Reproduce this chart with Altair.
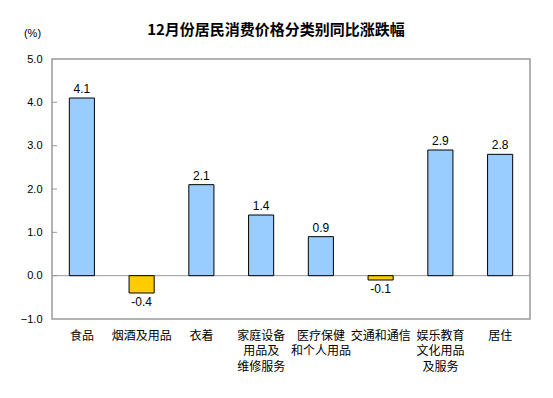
import altair as alt
import pandas as pd

title_text = "12月份居民消费价格分类别同比涨跌幅"
categories = ["食品", "烟酒及用品", "衣着", "家庭设备\n用品及\n维修服务", "医疗保健\n和个人用品",
              "交通和通信", "娱乐教育\n文化用品\n及服务", "居住"]
values = [4.1, -0.4, 2.1, 1.4, 0.9, -0.1, 2.9, 2.8]
y_ticks = [-1.0, 0.0, 1.0, 2.0, 3.0, 4.0, 5.0]

df = pd.DataFrame({"cat": categories, "v": values})
df["label"] = df["v"].map(lambda x: f"{x:.1f}")
ticks_df = pd.DataFrame({"t": y_ticks[1:-1]})

FONT = "Liberation Sans, Noto Sans CJK SC"
CJK = "Noto Sans CJK SC"

yscale = alt.Scale(domain=[-1, 5], nice=False, zero=False)
xenc = alt.X("cat:N", sort=categories, scale=alt.Scale(paddingInner=0.58, paddingOuter=0.29),
             axis=alt.Axis(title=None, labelExpr="split(datum.label, '\\n')", labelAngle=0,
                           domain=False, ticks=False, labelPadding=11, labelFont=CJK,
                           labelFontSize=12, labelLineHeight=15.5, labelColor="#000000",
                           labelBaseline="top"))

bars = alt.Chart(df).mark_bar(stroke="#000000", strokeWidth=1).encode(
    x=xenc,
    y=alt.Y("v:Q", scale=yscale,
            axis=alt.Axis(values=y_ticks, format=".1f", grid=False, domain=False, ticks=False,
                          labelPadding=10, labelFont=FONT, labelFontSize=11, labelColor="#000000",
                          title="(%)", titleAngle=0, titleX=-20, titleY=-26, titleAlign="center",
                          titleBaseline="middle", titleFont=FONT, titleFontSize=11,
                          titleFontWeight="normal", titleColor="#000000")),
    color=alt.condition("datum.v >= 0", alt.value("#99CCFF"), alt.value("#FFCC00")),
)

pos_text = alt.Chart(df).transform_filter("datum.v >= 0").mark_text(
    baseline="bottom", dy=-2, font=FONT, fontSize=12, color="#000000"
).encode(x=alt.X("cat:N", sort=categories), y=alt.Y("v:Q", scale=yscale), text="label:N")

neg_text = alt.Chart(df).transform_filter("datum.v < 0").mark_text(
    baseline="top", dy=4, font=FONT, fontSize=12, color="#000000"
).encode(x=alt.X("cat:N", sort=categories), y=alt.Y("v:Q", scale=yscale), text="label:N")

zero = alt.Chart(pd.DataFrame({"z": [0.0]})).mark_rule(color="#999999", strokeWidth=1).encode(
    y=alt.Y("z:Q", scale=yscale))

tickmarks = alt.Chart(ticks_df).mark_rule(color="#999999", strokeWidth=1).encode(
    x=alt.value(0), x2=alt.value(5), y=alt.Y("t:Q", scale=yscale))

title = alt.Chart(pd.DataFrame({"t": [title_text]})).mark_text(
    font=CJK, fontSize=15, fontWeight="bold", color="#000000", align="center", baseline="middle"
).encode(text="t:N", x=alt.value(224), y=alt.value(-29))

chart = alt.layer(zero, tickmarks, bars, pos_text, neg_text, title).properties(
    width=478, height=260,
    autosize=alt.AutoSizeParams(type="none"),
    padding={"left": 44, "top": 51, "right": 10, "bottom": 60},
).configure_view(stroke="#999999", strokeWidth=1.5)

chart.save("out.html", embed_options={"renderer": "svg", "actions": False})
